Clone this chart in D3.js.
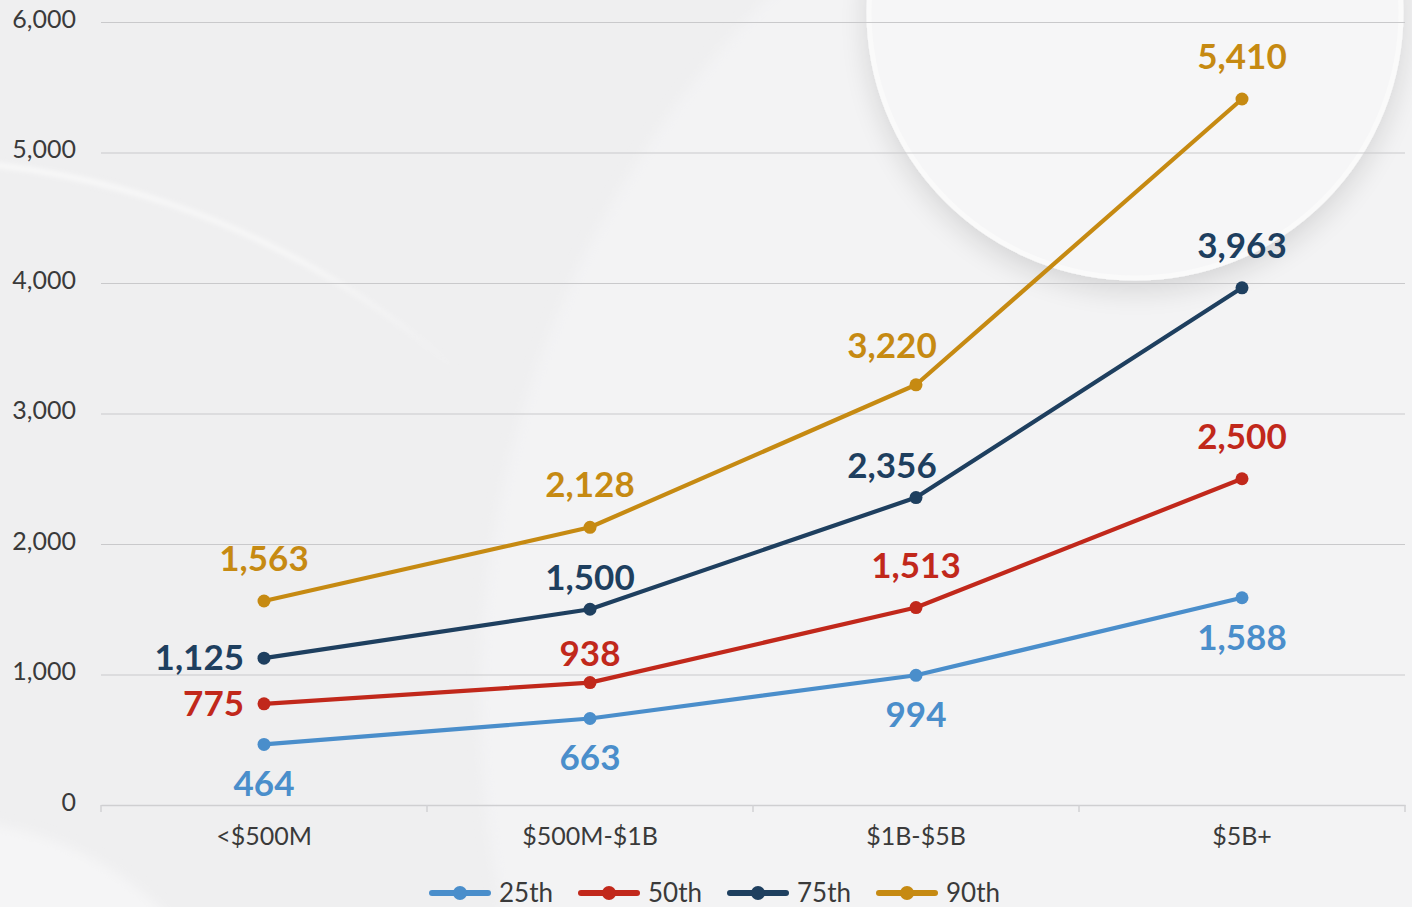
<!DOCTYPE html>
<html>
<head>
<meta charset="utf-8">
<script src="https://cdn.jsdelivr.net/npm/d3@7"></script>
<style>
  html, body { margin: 0; padding: 0; background: #f0f0f1; }
  svg { display: block; font-family: Lato, "Open Sans", sans-serif; }
</style>
</head>
<body>
<svg id="chart" width="1412" height="907"></svg>
<script>
// Revenue-band categories and percentile series
const categories = ["<$500M", "$500M-$1B", "$1B-$5B", "$5B+"];
const p25 = [464, 663, 994, 1588];
const p50 = [775, 938, 1513, 2500];
const p75 = [1125, 1500, 2356, 3963];
const p90 = [1563, 2128, 3220, 5410];
const seriesNames = ["25th", "50th", "75th", "90th"];
const yTicks = [0, 1000, 2000, 3000, 4000, 5000, 6000];

const colors = {
  "25th": "#4a8ecb",
  "50th": "#c1281b",
  "75th": "#1e3f5f",
  "90th": "#c68a12"
};

const series = [
  { name: "25th", values: p25 },
  { name: "50th", values: p50 },
  { name: "75th", values: p75 },
  { name: "90th", values: p90 }
];

const W = 1412, H = 907;
const margin = { left: 101, right: 7, top: 22, bottom: 102 };
const svg = d3.select("#chart");

// ---- soft decorative background ----
const defs = svg.append("defs");
const shadow = defs.append("filter").attr("id", "softShadow")
  .attr("x", "-30%").attr("y", "-30%").attr("width", "160%").attr("height", "160%");
shadow.append("feGaussianBlur").attr("in", "SourceAlpha").attr("stdDeviation", 14);
shadow.append("feOffset").attr("dx", 0).attr("dy", 10).attr("result", "b");
shadow.append("feComponentTransfer").append("feFuncA").attr("type", "linear").attr("slope", 0.13);
const m = shadow.append("feMerge");
m.append("feMergeNode");
m.append("feMergeNode").attr("in", "SourceGraphic");

const blur = defs.append("filter").attr("id", "haze")
  .attr("x", "-20%").attr("y", "-20%").attr("width", "140%").attr("height", "140%");
blur.append("feGaussianBlur").attr("stdDeviation", 6);
const thinBlur = defs.append("filter").attr("id", "thinHaze")
  .attr("x", "-20%").attr("y", "-20%").attr("width", "140%").attr("height", "140%");
thinBlur.append("feGaussianBlur").attr("stdDeviation", 2.5);

// highlight that fades out toward the middle of the page
const fade = defs.append("linearGradient").attr("id", "arcFade")
  .attr("gradientUnits", "userSpaceOnUse")
  .attr("x1", 0).attr("y1", 0).attr("x2", 560).attr("y2", 0);
fade.append("stop").attr("offset", 0).attr("stop-color", "#fafafa").attr("stop-opacity", 1);
fade.append("stop").attr("offset", 0.7).attr("stop-color", "#fafafa").attr("stop-opacity", 0.8);
fade.append("stop").attr("offset", 1).attr("stop-color", "#fafafa").attr("stop-opacity", 0);

const bg = svg.append("g");
bg.append("rect").attr("width", W).attr("height", H).attr("fill", "#efeff0");
// large faint disc across the middle/right
bg.append("circle").attr("cx", 1480).attr("cy", 700).attr("r", 1000)
  .attr("fill", "#f3f3f4").attr("filter", "url(#haze)");
// thin highlight arc at upper-left
bg.append("path")
  .attr("transform", "translate(-100,1000)")
  .attr("d", d3.arc()({ innerRadius: 838, outerRadius: 843, startAngle: -0.05, endAngle: 0.95 }))
  .attr("fill", "url(#arcFade)")
  .attr("filter", "url(#thinHaze)");
// faint disc at lower-left
bg.append("circle").attr("cx", -60).attr("cy", 1140).attr("r", 320)
  .attr("fill", "#f5f5f6").attr("filter", "url(#haze)");
// raised disc at upper-right
bg.append("circle").attr("cx", 1135).attr("cy", 12).attr("r", 266)
  .attr("fill", "#f6f6f7").attr("stroke", "#fafafa").attr("stroke-width", 5)
  .attr("filter", "url(#softShadow)");

// ---- scales ----
const x = d3.scaleBand().domain(categories).range([margin.left, W - margin.right]);
const cx = c => x(c) + x.bandwidth() / 2;
const y = d3.scaleLinear().domain([0, 6000]).range([H - margin.bottom, margin.top]);

// ---- gridlines ----
svg.append("g")
  .attr("transform", `translate(${margin.left},0)`)
  .call(d3.axisLeft(y).tickValues(yTicks).tickSize(-(W - margin.right - margin.left)).tickFormat(""))
  .call(g => g.select(".domain").remove())
  .call(g => g.selectAll("line").attr("stroke", "#c9c9cb").attr("stroke-width", 1.2));

// ---- y axis labels ----
svg.append("g")
  .attr("transform", `translate(${margin.left},0)`)
  .call(d3.axisLeft(y).tickValues(yTicks).tickSize(0).tickPadding(25).tickFormat(d3.format(",")))
  .call(g => g.select(".domain").remove())
  .call(g => g.selectAll("text")
    .attr("font-family", "Lato, sans-serif").attr("font-size", 25)
    .attr("fill", "#3a3a3a").attr("dy", "0.2em"));

// ---- x axis: baseline, boundary ticks, labels ----
const xAxisG = svg.append("g").attr("transform", `translate(0,${y(0)})`);
xAxisG.call(d3.axisBottom(x).tickSize(0).tickPadding(22))
  .call(g => g.select(".domain").attr("stroke", "#cfcfd1").attr("stroke-width", 1.5))
  .call(g => g.selectAll("text")
    .attr("font-family", "Lato, sans-serif").attr("font-size", 25).attr("fill", "#3a3a3a"));
const bounds = categories.map(c => x(c)).concat([x.range()[1]]);
xAxisG.selectAll("line.bound").data(bounds).join("line")
  .attr("class", "bound")
  .attr("x1", d => d).attr("x2", d => d).attr("y1", 0).attr("y2", 7)
  .attr("stroke", "#d2d2d4").attr("stroke-width", 1.5);

// ---- lines and points ----
const line = d3.line().x((d, i) => cx(categories[i])).y(d => y(d));
const plot = svg.append("g");
series.forEach(s => {
  plot.append("path").datum(s.values)
    .attr("d", line).attr("fill", "none")
    .attr("stroke", colors[s.name]).attr("stroke-width", 4.2)
    .attr("stroke-linejoin", "round");
  plot.selectAll(null).data(s.values).join("circle")
    .attr("cx", (d, i) => cx(categories[i])).attr("cy", d => y(d))
    .attr("r", 6.5).attr("fill", colors[s.name]);
});

// ---- value labels ----
// where each label sits relative to its point; crowded ones are nudged
function placement(name, i) {
  if (name === "25th") return { pos: "below", dx: 0, dy: 52 };
  if (name === "90th") {
    if (i === 2) return { pos: "above", dx: -24, dy: -27 };
    return { pos: "above", dx: 0, dy: -30 };
  }
  if (i === 0) return { pos: "left", dx: -20, dy: 12 };
  if (name === "75th") {
    if (i === 1) return { pos: "above", dx: 0, dy: -19 };
    if (i === 2) return { pos: "above", dx: -24, dy: -20 };
    return { pos: "above", dx: 0, dy: -30 };
  }
  // 50th
  if (i === 1) return { pos: "above", dx: 0, dy: -17 };
  return { pos: "above", dx: 0, dy: -30 };
}
const fmt = d3.format(",");
series.forEach(s => {
  s.values.forEach((v, i) => {
    const px = cx(categories[i]), py = y(v);
    const p = placement(s.name, i);
    plot.append("text").text(fmt(v))
      .attr("font-family", "Lato, sans-serif").attr("font-weight", 700)
      .attr("font-size", 35).attr("fill", colors[s.name])
      .attr("x", px + p.dx).attr("y", py + p.dy)
      .attr("text-anchor", p.pos === "left" ? "end" : "middle");
  });
});

// ---- legend ----
const legend = svg.append("g").attr("transform", `translate(432,893)`);
const item = legend.selectAll("g").data(seriesNames).join("g")
  .attr("transform", (d, i) => `translate(${i * 149},0)`);
item.append("line").attr("x1", 0).attr("x2", 56).attr("y1", 0).attr("y2", 0)
  .attr("stroke", d => colors[d]).attr("stroke-width", 6).attr("stroke-linecap", "round");
item.append("circle").attr("cx", 28).attr("cy", 0).attr("r", 7).attr("fill", d => colors[d]);
item.append("text").attr("x", 67).attr("y", 0).attr("dy", "0.36em")
  .attr("font-family", "Lato, sans-serif").attr("font-size", 26).attr("fill", "#3a3a3a")
  .text(d => d);
</script>
</body>
</html>
